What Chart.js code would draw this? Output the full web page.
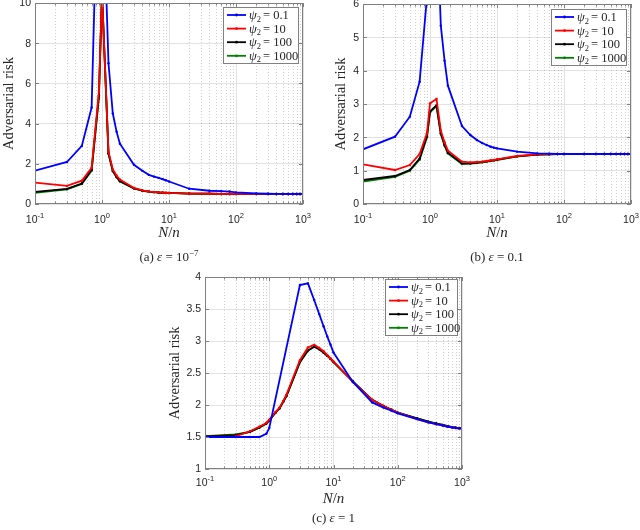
<!DOCTYPE html>
<html><head><meta charset="utf-8">
<script src="https://cdn.jsdelivr.net/npm/chart.js@4.4.0/dist/chart.umd.min.js"></script>
<style>
html,body{margin:0;padding:0;background:#fff;width:640px;height:530px;overflow:hidden}
canvas{position:absolute;left:0;top:0}
</style></head><body>
<canvas id="ca" width="640" height="530"></canvas>
<canvas id="cb" width="640" height="530"></canvas>
<canvas id="cc" width="640" height="530"></canvas>
<script>
// ---------- data ----------
const X = [0.1,0.3,0.5,0.7,0.9,1,1.25,1.45,1.65,1.85,3,4,5,6,7,8,9,10,20,40,60,80,100,200,300,400,500,600,700,800,900,1000];
const X_TICKS = [0.1,1,10,100,1000];
const A_Y_TICKS = [0,2,4,6,8,10];
const B_Y_TICKS = [0,1,2,3,4,5,6];
const C_Y_TICKS = [1,1.5,2,2.5,3,3.5,4];
const PSI2 = ['0.1','10','100','1000'];
const CAPTION_TAGS = ['(a)','(b)','(c)'];
const EPS_BASE = ['10','0.1','1'];
const EPS_EXP = ['\u22127','',''];

// panel (a): eps = 1e-7
const A_P01   = [1.66,2.09,2.89,4.8,18.5,17,7.0,4.5,3.6,3.0,1.95,1.65,1.45,1.36,1.3,1.24,1.18,1.12,0.76,0.66,0.64,0.62,0.58,0.53,0.51,0.5,0.5,0.5,0.5,0.5,0.5,0.5];
const A_P10   = [1.06,0.9,1.16,1.8,5.6,10.5,2.6,1.72,1.42,1.22,0.8,0.68,0.62,0.6,0.58,0.57,0.56,0.55,0.52,0.51,0.5,0.5,0.5,0.5,0.5,0.5,0.5,0.5,0.5,0.5,0.5,0.5];
const A_P100  = [0.6,0.75,1.02,1.7,5.4,10.5,2.52,1.65,1.35,1.14,0.78,0.67,0.62,0.59,0.57,0.56,0.55,0.55,0.52,0.51,0.5,0.5,0.5,0.5,0.5,0.5,0.5,0.5,0.5,0.5,0.5,0.5];
const A_P1000 = [0.56,0.73,1.0,1.66,5.3,10.5,2.5,1.63,1.33,1.12,0.77,0.66,0.61,0.59,0.57,0.56,0.55,0.55,0.52,0.51,0.5,0.5,0.5,0.5,0.5,0.5,0.5,0.5,0.5,0.5,0.5,0.5];

// panel (b): eps = 0.1
const B_P01   = [1.64,2.02,2.62,3.67,6.2,12,9,5.35,4.3,3.55,2.34,2.07,1.92,1.83,1.77,1.72,1.69,1.67,1.57,1.52,1.51,1.5,1.5,1.5,1.5,1.5,1.5,1.5,1.5,1.5,1.5,1.5];
const B_P10   = [1.19,1.02,1.17,1.5,2.12,3.02,3.15,2.2,1.85,1.6,1.27,1.25,1.26,1.27,1.29,1.31,1.32,1.34,1.44,1.49,1.5,1.5,1.5,1.5,1.5,1.5,1.5,1.5,1.5,1.5,1.5,1.5];
const B_P100  = [0.72,0.84,1.02,1.36,2.03,2.78,2.96,2.12,1.77,1.54,1.22,1.22,1.24,1.26,1.28,1.3,1.31,1.33,1.43,1.48,1.49,1.5,1.5,1.5,1.5,1.5,1.5,1.5,1.5,1.5,1.5,1.5];
const B_P1000 = [0.67,0.81,1.0,1.33,2.0,2.75,2.94,2.1,1.75,1.52,1.2,1.21,1.23,1.25,1.27,1.29,1.31,1.32,1.43,1.48,1.49,1.5,1.5,1.5,1.5,1.5,1.5,1.5,1.5,1.5,1.5,1.5];

// panel (c): eps = 1
const C_P01   = [1.5,1.5,1.5,1.5,1.55,1.64,null,null,null,null,3.875,3.9,3.64,3.42,3.23,3.07,2.94,2.82,2.36,2.04,1.96,1.91,1.87,1.78,1.73,1.7,1.68,1.66,1.65,1.64,1.635,1.63];
const C_P10   = [1.5,1.51,1.59,1.66,1.72,1.77,1.89,1.96,2.06,2.16,2.7,2.9,2.94,2.89,2.84,2.78,2.73,2.68,2.36,2.08,1.985,1.925,1.88,1.78,1.73,1.7,1.68,1.66,1.65,1.64,1.635,1.63];
const C_P100  = [1.51,1.53,1.58,1.65,1.71,1.76,1.88,1.95,2.05,2.14,2.67,2.85,2.91,2.87,2.82,2.77,2.72,2.67,2.37,2.08,1.985,1.925,1.88,1.79,1.74,1.71,1.69,1.67,1.655,1.645,1.64,1.635];
const C_P1000 = [1.515,1.54,1.58,1.645,1.71,1.76,1.88,1.95,2.05,2.14,2.67,2.85,2.91,2.87,2.82,2.77,2.72,2.67,2.37,2.08,1.985,1.925,1.88,1.79,1.74,1.71,1.69,1.67,1.655,1.645,1.64,1.635];

// ---------- styling ----------
const COLORS = ['#0000ff','#ff0000','#000000','#008000'];
const TICK_FONT = '10.5px "Liberation Sans", Arial, sans-serif';
const SUP_FONT = '7.5px "Liberation Sans", Arial, sans-serif';
const SERIF = '"Liberation Serif", "Times New Roman", serif';
const TXT = '#262626';
const BOX = '#808080';

function minorVals(){
  const out=[];
  for(let i=0;i<X_TICKS.length-1;i++){
    for(let k=2;k<=9;k++){ const v=k*X_TICKS[i]; if(v<X_TICKS[i+1]) out.push(v); }
  }
  return out;
}

function drawParts(ctx, parts, cx, baseline){
  let total=0;
  parts.forEach(p=>{ctx.font=p.font; p.w=ctx.measureText(p.t).width; total+=p.w;});
  let x=cx-total/2;
  ctx.textAlign='left'; ctx.textBaseline='alphabetic';
  parts.forEach(p=>{ctx.font=p.font; ctx.fillText(p.t,x,baseline+(p.dy||0)); x+=p.w;});
}

function makeDecor(cfg){
  return {
    id:'decor',
    beforeDatasetsDraw(chart){
      const {ctx, chartArea:a} = chart; const xs=chart.scales.x;
      ctx.save();
      ctx.beginPath(); ctx.rect(a.left,a.top,a.right-a.left,a.bottom-a.top); ctx.clip();
      ctx.strokeStyle='rgba(60,60,60,0.24)'; ctx.lineWidth=1; ctx.setLineDash([1,2]);
      minorVals().forEach(v=>{
        const px=Math.round(xs.getPixelForValue(v))+0.5;
        ctx.beginPath(); ctx.moveTo(px,a.top); ctx.lineTo(px,a.bottom); ctx.stroke();
      });
      ctx.restore();
    },
    afterDatasetsDraw(chart){
      const {ctx, chartArea:a} = chart; const xs=chart.scales.x, ys=chart.scales.y;
      ctx.save();
      ctx.strokeStyle=BOX; ctx.lineWidth=1; ctx.setLineDash([]);
      ctx.strokeRect(a.left+0.5,a.top+0.5,a.right-a.left-1,a.bottom-a.top-1);
      ctx.beginPath();
      X_TICKS.forEach(v=>{const px=Math.round(xs.getPixelForValue(v))+0.5;
        ctx.moveTo(px,a.bottom); ctx.lineTo(px,a.bottom-4); ctx.moveTo(px,a.top); ctx.lineTo(px,a.top+4);});
      minorVals().forEach(v=>{const px=Math.round(xs.getPixelForValue(v))+0.5;
        ctx.moveTo(px,a.bottom); ctx.lineTo(px,a.bottom-2.5); ctx.moveTo(px,a.top); ctx.lineTo(px,a.top+2.5);});
      cfg.yTicks.forEach(v=>{const py=Math.round(ys.getPixelForValue(v))+0.5;
        ctx.moveTo(a.left,py); ctx.lineTo(a.left+4,py); ctx.moveTo(a.right,py); ctx.lineTo(a.right-4,py);});
      ctx.stroke();
      ctx.fillStyle=TXT; ctx.font=TICK_FONT; ctx.textAlign='right'; ctx.textBaseline='middle';
      cfg.yTicks.forEach(v=>{ ctx.fillText(String(v), a.left-4, ys.getPixelForValue(v)+0.5); });
      X_TICKS.forEach(v=>{
        const e=Math.round(Math.log10(v));
        drawParts(ctx,[{t:'10',font:TICK_FONT},{t:String(e),font:SUP_FONT,dy:-5}], xs.getPixelForValue(v), a.bottom+cfg.xLabOff);
      });
      ctx.fillStyle=TXT;
      drawParts(ctx,[{t:'N',font:'italic 15px '+SERIF},{t:'/',font:'15px '+SERIF},{t:'n',font:'italic 15px '+SERIF}], (a.left+a.right)/2, a.bottom+cfg.titleOff);
      ctx.save(); ctx.translate(cfg.yTitleX,(a.top+a.bottom)/2); ctx.rotate(-Math.PI/2);
      ctx.font='14.5px '+SERIF; ctx.textAlign='center'; ctx.textBaseline='middle';
      ctx.fillText('Adversarial risk',0,0); ctx.restore();
      const ds=chart.data.datasets;
      const w=cfg.legW, h=57, bx=a.right-4-w, by=a.top+cfg.legTop;
      ctx.fillStyle='#fff'; ctx.fillRect(bx,by,w,h);
      ctx.strokeStyle=BOX; ctx.lineWidth=1; ctx.strokeRect(bx+0.5,by+0.5,w-1,h-1);
      ds.forEach((d,i)=>{
        const cy=by+8+i*13.6;
        ctx.strokeStyle=d.borderColor; ctx.lineWidth=1.8;
        ctx.beginPath(); ctx.moveTo(bx+4,cy); ctx.lineTo(bx+23,cy); ctx.stroke();
        ctx.fillStyle=d.borderColor; ctx.beginPath(); ctx.arc(bx+13.5,cy,1.4,0,Math.PI*2); ctx.fill();
        ctx.fillStyle=TXT; ctx.textAlign='left'; ctx.textBaseline='alphabetic';
        let x=bx+26;
        ctx.font='italic 12.5px '+SERIF; ctx.fillText('\u03c8',x,cy+4); x+=ctx.measureText('\u03c8').width;
        ctx.font='8.5px '+SERIF; ctx.fillText('2',x,cy+6.5); x+=ctx.measureText('2').width+2;
        ctx.font='12.5px '+SERIF; ctx.fillText('= '+d.label,x,cy+4);
      });
      ctx.fillStyle=TXT;
      const parts=[{t:cfg.tag+' ',font:'13px '+SERIF},{t:'\u03b5',font:'italic 13px '+SERIF},{t:' = '+cfg.epsBase,font:'13px '+SERIF}];
      if(cfg.epsExp) parts.push({t:cfg.epsExp,font:'9px '+SERIF,dy:-5.5});
      drawParts(ctx,parts,(a.left+a.right)/2,cfg.capY);
      ctx.restore();
    }
  };
}

function makeChart(id, series, yTicks, pad, cfg){
  const datasets=series.map((arr,i)=>({
    label:PSI2[i],
    data:X.map((x,j)=>({x:x,y:arr[j]})),
    borderColor:COLORS[i], backgroundColor:COLORS[i],
    borderWidth:1.8, pointRadius:1.2, pointHoverRadius:1.2, pointBorderWidth:0,
    pointBackgroundColor:COLORS[i], tension:0, spanGaps:true, clip:0
  }));
  cfg.yTicks=yTicks;
  return new Chart(document.getElementById(id),{
    type:'line',
    data:{datasets},
    options:{
      responsive:false, animation:false, devicePixelRatio:1,
      events:[],
      layout:{padding:pad},
      plugins:{legend:{display:false},tooltip:{enabled:false}},
      scales:{
        x:{type:'logarithmic',min:X_TICKS[0],max:X_TICKS[X_TICKS.length-1],
           afterBuildTicks:s=>{s.ticks=X_TICKS.map(v=>({value:v,major:true}));},
           ticks:{display:false},
           grid:{color:'#e2e2e2',lineWidth:1,drawTicks:false},
           border:{display:false}},
        y:{type:'linear',min:yTicks[0],max:yTicks[yTicks.length-1],
           afterBuildTicks:s=>{s.ticks=yTicks.map(v=>({value:v}));},
           ticks:{display:false},
           grid:{color:'#e2e2e2',lineWidth:1,drawTicks:false},
           border:{display:false}}
      }
    },
    plugins:[makeDecor(cfg)]
  });
}

makeChart('ca',[A_P01,A_P10,A_P100,A_P1000],A_Y_TICKS,{left:35,top:3,right:337,bottom:326},
  {tag:CAPTION_TAGS[0],epsBase:EPS_BASE[0],epsExp:EPS_EXP[0],xLabOff:19,titleOff:33,yTitleX:9,legW:76,legTop:4,capY:261});
makeChart('cb',[B_P01,B_P10,B_P100,B_P1000],B_Y_TICKS,{left:363,top:4,right:9,bottom:326},
  {tag:CAPTION_TAGS[1],epsBase:EPS_BASE[1],epsExp:EPS_EXP[1],xLabOff:19,titleOff:33,yTitleX:341,legW:76,legTop:5,capY:261});
makeChart('cc',[C_P01,C_P10,C_P100,C_P1000],C_Y_TICKS,{left:205,top:277,right:178,bottom:61},
  {tag:CAPTION_TAGS[2],epsBase:EPS_BASE[2],epsExp:EPS_EXP[2],xLabOff:17,titleOff:34,yTitleX:175,legW:73,legTop:2,capY:522});
</script>
</body></html>
